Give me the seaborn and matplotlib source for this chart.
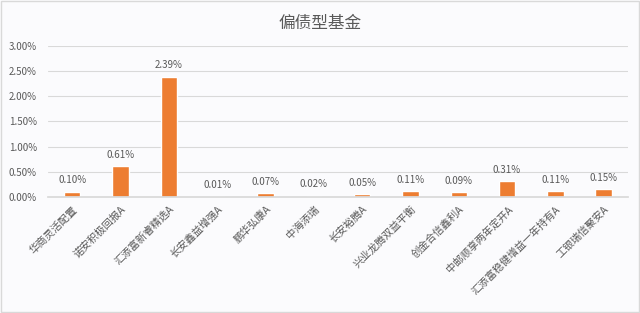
import matplotlib
matplotlib.use("Agg")
import matplotlib.pyplot as plt
import seaborn as sns
import pandas as pd

categories = ["华商灵活配置", "诺安积极回报A", "汇添富新睿精选A", "长安鑫益增强A", "鹏华弘康A",
              "中海添瑞", "长安裕腾A", "兴业龙腾双益平衡", "创金合信鑫利A", "中邮顺享两年定开A",
              "汇添富稳健增益一年持有A", "工银瑞信聚安A"]
values = [0.10, 0.61, 2.39, 0.01, 0.07, 0.02, 0.05, 0.11, 0.09, 0.31, 0.11, 0.15]
yticks = [0.0, 0.5, 1.0, 1.5, 2.0, 2.5, 3.0]
title = "偏债型基金"

sns.set_theme(style="white")
plt.rcParams['font.family'] = ['Noto Sans CJK SC', 'DejaVu Sans']

df = pd.DataFrame({"name": categories, "value": values})

fig = plt.figure(figsize=(6.4, 3.13), dpi=100, facecolor="#FBFBFD")
ax = fig.add_axes([0.075, 0.371, 0.906, 0.482])
ax.set_facecolor("#FBFBFD")
sns.barplot(data=df, x="name", y="value", color="#ED7D31", width=0.34, ax=ax, saturation=1)

ax.set_ylim(0, 3.0)
ax.set_yticks(yticks)
ax.set_yticklabels([f"{t:.2f}%" for t in yticks], fontsize=7, color="#595959")
ax.yaxis.grid(True, color="#D9D9D9", linewidth=0.8)
ax.set_axisbelow(True)
for s in ["top", "right", "left"]:
    ax.spines[s].set_visible(False)
ax.spines["bottom"].set_color("#D9D9D9")
ax.tick_params(axis="y", length=0, pad=8)
ax.tick_params(axis="x", length=0, pad=5)
ax.set_xlabel("")
ax.set_ylabel("")
ax.set_xticks(range(len(categories)))
ax.set_xticklabels(categories, rotation=45, ha="right", rotation_mode="anchor",
                   fontsize=7.5, color="#595959")

for i, v in enumerate(values):
    ax.text(i, v + 0.13, f"{v:.2f}%", ha="center", va="bottom", fontsize=7, color="#595959")

fig.text(0.5, 0.925, title, ha="center", va="center", fontsize=12, color="#595959")

fig.patches.append(plt.Rectangle((0.002, 0.003), 0.996, 0.994, transform=fig.transFigure,
                                 fill=False, edgecolor="#D9D9D9", linewidth=1))
fig.savefig("out.png", dpi=100, facecolor=fig.get_facecolor())
